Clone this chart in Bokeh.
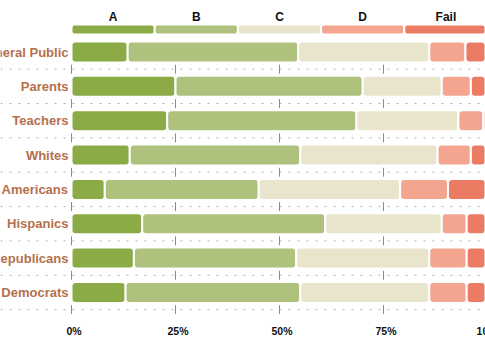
from bokeh.plotting import figure
from bokeh.models import Range1d
from bokeh.core.properties import value
from bokeh.embed import file_html
from bokeh.resources import INLINE

groups = ["General Public", "Parents", "Teachers", "Whites", "African Americans",
          "Hispanics", "Republicans", "Democrats"]
grades = ["A", "B", "C", "D", "Fail"]
grade_a = [13.5, 25, 23, 14, 8, 17, 15, 13]
grade_b = [41, 45, 45.5, 41, 37, 44, 39, 42]
grade_c = [31.5, 19, 24.5, 33, 34, 28, 32, 31]
grade_d = [8.7, 7, 6, 8, 11.5, 6, 9, 9]
grade_f = [5.3, 4, 1, 4, 9.5, 5, 5, 5]
tick_values = [0, 25, 50, 75, 100]
tick_labels = ["0%", "25%", "50%", "75%", "100%"]

colors = ["#8aab46", "#aec17d", "#e9e5cc", "#f3a590", "#ec7b64"]
label_color = "#b5704e"
font = value("Liberation Sans")

PX = 4.16      # pixels per percent
X0 = 71        # pixel of 0%
ROW = 34.35    # pixels per row
Y0 = 51.5      # pixel of first row centre
W, H = 485, 350

p = figure(width=W, height=H, output_backend="svg", toolbar_location=None,
           x_range=Range1d(-X0 / PX, (W - X0) / PX),
           y_range=Range1d((H - Y0) / ROW, -Y0 / ROW),
           min_border=0, outline_line_color=None)
p.axis.visible = False
p.grid.visible = False
p.background_fill_color = "white"

rows = list(range(len(groups)))

# dashed row separators with ticks
for i in rows:
    y = i + 0.5
    p.line(x=[p.x_range.start, p.x_range.end], y=[y, y], line_color="#b0b0b0",
           line_width=1, line_dash="2 7")
    p.segment(x0=tick_values, x1=tick_values, y0=[y - 0.13] * 5, y1=[y + 0.13] * 5,
              line_color="#8a8a8a", line_width=1)

# stacked bars
series = [grade_a, grade_b, grade_c, grade_d, grade_f]
lefts = [0.0] * len(groups)
for k, vals in enumerate(series):
    rights = [l + v for l, v in zip(lefts, vals)]
    p.hbar(y=rows, left=lefts, right=rights, height=21 / ROW,
           fill_color=colors[k], line_color="white", line_width=2,
           border_radius=4)
    lefts = rights

# legend strip
leg_left = [20 * k for k in range(5)]
leg_right = [20 * (k + 1) for k in range(5)]
leg_y = (29 - Y0) / ROW
p.hbar(y=[leg_y] * 5, left=leg_left, right=leg_right, height=10 / ROW,
       fill_color=colors, line_color="white", line_width=2, border_radius=3)
p.text(x=[20 * k + 10 for k in range(5)], y=[(16.5 - Y0) / ROW] * 5, text=grades,
       text_font=font, text_font_style="bold", text_font_size="12px",
       text_color="#111111", text_align="center", text_baseline="middle")

# row labels
p.text(x=[-3 / PX] * len(groups), y=rows, text=groups, text_font=font,
       text_font_style="bold", text_font_size="13px", text_color=label_color,
       text_align="right", text_baseline="middle")

# x tick labels
p.text(x=tick_values, y=[(330 - Y0) / ROW] * 5, text=tick_labels, text_font=font,
       text_font_style="bold", text_font_size="10.5px", text_color="#111111",
       text_align="center", text_baseline="middle", x_offset=2.5)

open("out.html", "w").write(file_html(p, INLINE))
